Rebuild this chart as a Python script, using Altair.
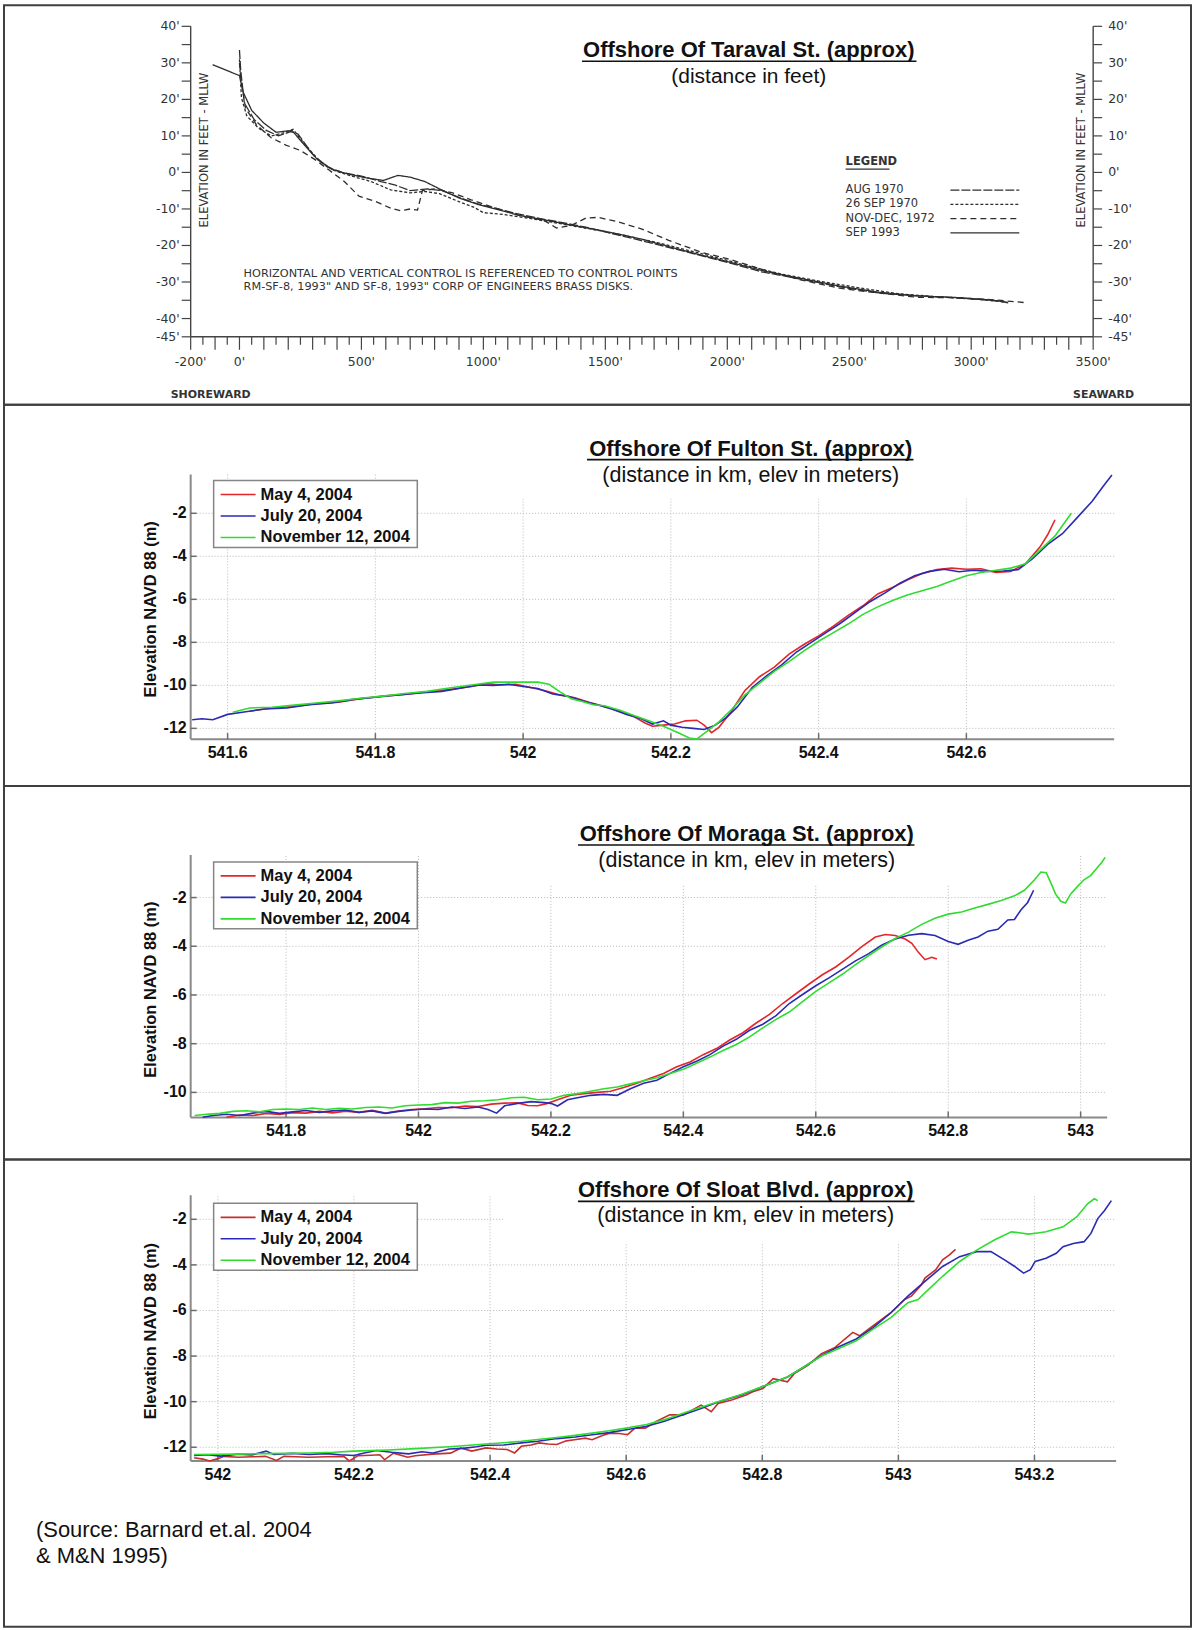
import altair as alt
import pandas as pd

PANEL_W = 1189
SANS = "Liberation Sans"
CAD = "DejaVu Sans"
CAD_INK = "#333333"

# ---------------- Taraval St. profiles (distance ft, elevation ft MLLW) ----------------
taraval_names = ["AUG 1970", "26 SEP 1970", "NOV-DEC, 1972", "SEP 1993"]

aug1970_ft = [0, 5, 20, 60, 110, 160, 210, 240, 300, 360, 420, 500, 580, 640, 700, 770, 830, 900,
              970, 1050, 1130, 1230, 1330, 1420, 1520, 1620, 1740, 1860, 2000, 2140, 2300, 2460,
              2620, 2780, 2930, 3080, 3140]
aug1970_el = [33.5, 28, 19, 14.5, 11.5, 10, 11.2, 10.5, 5, 1.5, 0, -1, -2.5, -3.5, -5, -4.5, -5,
              -6.8, -8.5, -9.8, -11.2, -12.6, -13.8, -15, -16.6, -18.2, -20.2, -22.2, -24.6, -27.2,
              -29.2, -31.3, -33, -33.8, -34.3, -35, -35.5]

sep1970_ft = [0, 8, 30, 80, 130, 180, 220, 270, 330, 390, 460, 540, 620, 700, 760, 820, 900, 960,
              1000, 1080, 1180, 1280, 1380, 1480, 1580, 1700, 1820, 1950, 2080, 2220, 2380, 2540,
              2700, 2850, 3000, 3120, 3160]
sep1970_el = [31, 20.5, 15.5, 12, 10, 10.8, 11.8, 7.5, 3, 0.5, -1, -2.5, -4.8, -5.6, -5.2, -5.8,
              -8, -9.5, -11, -11.5, -12.5, -13.6, -14.8, -16, -17.3, -19, -21, -23.2, -25.5, -27.8,
              -29.8, -31.6, -33.2, -34, -34.6, -35.3, -35.8]

nov1972_ft = [0, 5, 25, 70, 130, 190, 250, 310, 370, 430, 490, 560, 620, 660, 700, 730, 750, 800,
              870, 950, 1050, 1150, 1250, 1300, 1360, 1420, 1470, 1550, 1650, 1760, 1900, 2000,
              2150, 2300, 2460, 2620, 2780, 2930, 3080, 3230]
nov1972_el = [30, 26, 17.5, 13, 9.5, 7.5, 6, 3.5, 0.5, -2.5, -6.5, -8, -9.8, -10.5, -10, -10.3,
              -5, -4.5, -5.5, -7.5, -9.8, -11.8, -13.2, -15.2, -14.5, -12.5, -12.3, -13.5, -15.5,
              -18.6, -22, -23.6, -26.7, -29.4, -31.7, -33, -34.2, -34.3, -34.8, -35.7]

sep1993_ft = [-110, 0, 15, 50, 100, 150, 215, 260, 320, 380, 450, 520, 590, 650, 700, 760, 820,
              900, 980, 1060, 1150, 1250, 1350, 1450, 1550, 1650, 1760, 1880, 2000, 2150, 2300,
              2460, 2620, 2780, 2930, 3080, 3150]
sep1993_el = [29.5, 26.5, 22, 17, 13.5, 11, 11.5, 8, 3.5, 0.8, -0.5, -1.5, -2.2, -0.8, -1.3, -2.5,
              -4.5, -7, -8.8, -10.2, -11.8, -13, -14.3, -15.5, -16.8, -18.3, -20.3, -22.4, -24.4,
              -27, -29, -31.1, -32.8, -33.8, -34.2, -34.9, -35.6]

taraval_dashes = [[9, 2], [3, 2], [6, 4], [1, 0]]

taraval_xlabel_ticks = [-200, 0, 500, 1000, 1500, 2000, 2500, 3000, 3500]
taraval_xlabels = ["-200'", "0'", "500'", "1000'", "1500'", "2000'", "2500'", "3000'", "3500'"]
taraval_yticks = [40, 30, 20, 10, 0, -10, -20, -30, -40, -45]
taraval_ylabels = ["40'", "30'", "20'", "10'", "0'", "-10'", "-20'", "-30'", "-40'", "-45'"]

# ---------------- 2004 surveys (distance km, elevation m NAVD 88) ----------------
survey_names = ["May 4, 2004", "July 20, 2004", "November 12, 2004"]
survey_colors = ["#e2262a", "#2a2ab4", "#2fdc2f"]
sloat_colors = ["#c4302c", "#2a2ab4", "#2fdc2f"]

# Fulton St.
fulton_may_km = [541.63, 541.66, 541.69, 541.72, 541.75, 541.78, 541.81, 541.84, 541.87, 541.9,
                 541.93, 541.95, 541.97, 541.99, 542.01, 542.03, 542.05, 542.07, 542.09, 542.11,
                 542.13, 542.15, 542.165, 542.175, 542.19, 542.205, 542.22, 542.235, 542.245,
                 542.255, 542.265, 542.28, 542.3, 542.32, 542.34, 542.36, 542.38, 542.4, 542.42,
                 542.44, 542.46, 542.48, 542.5, 542.52, 542.54, 542.56, 542.58, 542.6, 542.62,
                 542.64, 542.66, 542.68, 542.69, 542.7, 542.71, 542.72]
fulton_may_m = [-11.2, -11.05, -10.98, -10.85, -10.78, -10.62, -10.5, -10.42, -10.3, -10.2, -10.05,
                -9.92, -9.98, -9.95, -10.1, -10.25, -10.45, -10.58, -10.8, -10.98, -11.2, -11.45,
                -11.75, -11.9, -11.85, -11.8, -11.65, -11.62, -11.85, -12.2, -11.95, -11.3,
                -10.25, -9.6, -9.15, -8.55, -8.1, -7.7, -7.25, -6.75, -6.3, -5.75, -5.45, -5.1,
                -4.8, -4.62, -4.55, -4.6, -4.58, -4.75, -4.7, -4.35, -3.95, -3.55, -3.0, -2.3]
fulton_jul_km = [541.552, 541.565, 541.58, 541.6, 541.62, 541.65, 541.68, 541.71, 541.74, 541.77,
                 541.8, 541.83, 541.86, 541.89, 541.92, 541.94, 541.96, 541.98, 542.0, 542.02,
                 542.04, 542.06, 542.08, 542.1, 542.12, 542.14, 542.16, 542.175, 542.19, 542.2,
                 542.215, 542.23, 542.245, 542.26, 542.275, 542.29, 542.31, 542.33, 542.35,
                 542.37, 542.39, 542.41, 542.43, 542.45, 542.47, 542.49, 542.51, 542.53, 542.55,
                 542.57, 542.59, 542.61, 542.63, 542.65, 542.67, 542.69, 542.71, 542.73, 542.75,
                 542.77, 542.785, 542.797]
fulton_jul_m = [-11.6, -11.55, -11.6, -11.35, -11.25, -11.1, -11.05, -10.9, -10.82, -10.65,
                -10.55, -10.45, -10.35, -10.28, -10.1, -9.98, -10.0, -9.95, -10.05, -10.15,
                -10.4, -10.5, -10.72, -10.9, -11.1, -11.35, -11.55, -11.8, -11.65, -11.85,
                -11.95, -12.0, -12.05, -11.85, -11.5, -11.0, -10.1, -9.55, -9.05, -8.45,
                -8.0, -7.55, -7.1, -6.6, -6.1, -5.7, -5.25, -4.9, -4.7, -4.6,
                -4.72, -4.65, -4.7, -4.68, -4.62, -4.1, -3.45, -2.95, -2.2, -1.45,
                -0.75, -0.22]
fulton_nov_km = [541.607, 541.63, 541.66, 541.69, 541.72, 541.75, 541.78, 541.81, 541.84, 541.87,
                 541.9, 541.93, 541.96, 541.99, 542.02, 542.035, 542.05, 542.065, 542.08, 542.095,
                 542.11, 542.13, 542.15, 542.17, 542.19, 542.21, 542.225, 542.235, 542.25,
                 542.265, 542.28, 542.3, 542.32, 542.34, 542.36, 542.38, 542.4, 542.42, 542.44,
                 542.46, 542.48, 542.5, 542.52, 542.54, 542.56, 542.58, 542.6, 542.62, 542.64,
                 542.66, 542.68, 542.7, 542.72, 542.742]
fulton_nov_m = [-11.25, -11.05, -11.02, -10.92, -10.82, -10.72, -10.6, -10.5, -10.38, -10.28,
                -10.12, -9.98, -9.85, -9.85, -9.85, -9.95, -10.3, -10.62, -10.75, -10.9, -10.95,
                -11.15, -11.4, -11.65, -11.9, -12.2, -12.45, -12.5, -12.1, -11.7, -11.2,
                -10.45, -9.9, -9.35, -8.9, -8.4, -7.95, -7.55, -7.15, -6.7, -6.35, -6.05, -5.8,
                -5.6, -5.4, -5.15, -4.9, -4.75, -4.65, -4.55, -4.35, -3.7, -3.05, -2.0]

# Moraga St.
moraga_may_km = [541.71, 541.73, 541.75, 541.77, 541.79, 541.81, 541.83, 541.85, 541.87, 541.89,
                 541.91, 541.93, 541.95, 541.97, 541.99, 542.01, 542.03, 542.05, 542.07, 542.09,
                 542.11, 542.13, 542.15, 542.165, 542.18, 542.195, 542.21, 542.23, 542.25,
                 542.27, 542.29, 542.31, 542.33, 542.35, 542.37, 542.39, 542.41, 542.43, 542.45,
                 542.47, 542.49, 542.51, 542.53, 542.55, 542.57, 542.59, 542.61, 542.63, 542.65,
                 542.67, 542.69, 542.705, 542.72, 542.735, 542.745, 542.755, 542.765, 542.775,
                 542.783]
moraga_may_m = [-11.02, -10.93, -10.95, -10.86, -10.9, -10.83, -10.85, -10.78, -10.84, -10.77,
                -10.82, -10.74, -10.85, -10.76, -10.7, -10.67, -10.62, -10.63, -10.56, -10.58,
                -10.48, -10.44, -10.43, -10.54, -10.55, -10.45, -10.3, -10.12, -10.05, -10.0,
                -9.95, -9.8, -9.62, -9.42, -9.22, -8.95, -8.75, -8.45, -8.2, -7.85, -7.55,
                -7.15, -6.8, -6.35, -5.95, -5.55, -5.17, -4.85, -4.45, -4.0, -3.62, -3.52,
                -3.56, -3.7, -3.88, -4.25, -4.55, -4.45, -4.52]
moraga_jul_km = [541.674, 541.69, 541.71, 541.73, 541.75, 541.77, 541.79, 541.81, 541.83, 541.85,
                 541.87, 541.89, 541.91, 541.93, 541.95, 541.97, 541.99, 542.01, 542.03, 542.05,
                 542.07, 542.09, 542.105, 542.118, 542.13, 542.15, 542.17, 542.19, 542.2, 542.21,
                 542.225, 542.24, 542.26, 542.28, 542.3, 542.32, 542.34, 542.36, 542.38, 542.4,
                 542.42, 542.44, 542.46, 542.48, 542.5, 542.52, 542.54, 542.56, 542.58, 542.6,
                 542.62, 542.64, 542.66, 542.68, 542.7, 542.72, 542.74, 542.76, 542.78, 542.8,
                 542.815, 542.83, 542.845, 542.86, 542.875, 542.89, 542.9, 542.91, 542.92,
                 542.929]
moraga_jul_m = [-11.02, -10.95, -10.9, -10.95, -10.85, -10.78, -10.86, -10.8, -10.74, -10.82,
                -10.76, -10.72, -10.82, -10.76, -10.86, -10.78, -10.72, -10.68, -10.7, -10.6,
                -10.66, -10.6, -10.7, -10.85, -10.55, -10.45, -10.38, -10.42, -10.45, -10.56,
                -10.3, -10.22, -10.12, -10.08, -10.12, -9.85, -9.62, -9.5, -9.22, -8.95,
                -8.72, -8.45, -8.1, -7.82, -7.45, -7.2, -6.85, -6.35, -5.98, -5.62,
                -5.3, -4.95, -4.6, -4.3, -3.95, -3.7, -3.55, -3.48, -3.56, -3.8,
                -3.92, -3.75, -3.62, -3.38, -3.3, -2.92, -2.9, -2.5, -2.2, -1.7]
moraga_nov_km = [541.662, 541.68, 541.70, 541.72, 541.74, 541.76, 541.78, 541.80, 541.82, 541.84,
                 541.86, 541.88, 541.90, 541.92, 541.94, 541.96, 541.98, 542.00, 542.02, 542.04,
                 542.06, 542.08, 542.10, 542.12, 542.14, 542.16, 542.18, 542.20, 542.22, 542.24,
                 542.26, 542.28, 542.30, 542.32, 542.34, 542.36, 542.38, 542.40, 542.42, 542.44,
                 542.46, 542.48, 542.50, 542.52, 542.54, 542.56, 542.58, 542.60, 542.62, 542.64,
                 542.66, 542.68, 542.70, 542.72, 542.74, 542.76, 542.78, 542.80, 542.82, 542.84,
                 542.86, 542.88, 542.90, 542.915, 542.93, 542.94, 542.948, 542.955, 542.962,
                 542.97, 542.977, 542.985, 542.995, 543.005, 543.015, 543.025, 543.032, 543.037]
moraga_nov_m = [-10.95, -10.9, -10.86, -10.78, -10.75, -10.8, -10.7, -10.68, -10.7, -10.64,
                -10.7, -10.65, -10.68, -10.62, -10.6, -10.64, -10.55, -10.52, -10.5, -10.42,
                -10.44, -10.36, -10.34, -10.3, -10.22, -10.2, -10.3, -10.27, -10.12, -10.05,
                -9.95, -9.85, -9.78, -9.65, -9.52, -9.4, -9.22, -9.05, -8.8, -8.55,
                -8.28, -8.03, -7.72, -7.35, -7.0, -6.7, -6.27, -5.85, -5.5, -5.15,
                -4.75, -4.38, -4.02, -3.68, -3.42, -3.1, -2.85, -2.68, -2.59, -2.43,
                -2.28, -2.12, -1.93, -1.7, -1.28, -0.95, -0.98, -1.4, -1.85,
                -2.15, -2.22, -1.85, -1.55, -1.27, -1.1, -0.78, -0.55, -0.35]

# Sloat Blvd.
sloat_may_km = [541.965, 541.978, 541.988, 542.0, 542.009, 542.03, 542.05, 542.07, 542.086, 542.097,
                542.115, 542.133, 542.16, 542.185, 542.193, 542.206, 542.225, 542.238, 542.245,
                542.258, 542.279, 542.29, 542.315, 542.342, 542.357, 542.373, 542.394, 542.41,
                542.425, 542.436, 542.446, 542.46, 542.472, 542.485, 542.498, 542.512, 542.524,
                542.54, 542.55, 542.565, 542.576, 542.59, 542.602, 542.613, 542.628, 542.644,
                542.664, 542.684, 542.71, 542.725, 542.735, 542.755, 542.776, 542.786, 542.801,
                542.816, 542.837, 542.847, 542.867, 542.887, 542.907, 542.933, 542.943, 542.963,
                542.989, 543.009, 543.019, 543.034, 543.039, 543.055, 543.065, 543.075, 543.084]
sloat_may_m = [-12.46, -12.52, -12.6, -12.5, -12.4, -12.44, -12.42, -12.4, -12.58, -12.4,
               -12.42, -12.44, -12.42, -12.4, -12.6, -12.37, -12.35, -12.33, -12.55, -12.26,
               -12.44, -12.37, -12.3, -12.26, -12.03, -12.17, -12.03, -12.08, -12.1, -12.25,
               -11.96, -11.9, -11.81, -11.86, -11.88, -11.72, -11.67, -11.6, -11.67, -11.48,
               -11.38, -11.4, -11.45, -11.16, -11.16, -10.87, -10.58, -10.58, -10.15, -10.44,
               -10.08, -9.93, -9.71, -9.57, -9.42, -8.99, -9.13, -8.77, -8.41, -7.9,
               -7.62, -6.96, -7.11, -6.67, -6.1, -5.52, -5.37, -4.87, -4.58, -4.21,
               -3.78, -3.56, -3.32]
sloat_jul_km = [541.965, 541.985, 542.004, 542.03, 542.05, 542.071, 542.082, 542.11, 542.134, 542.16,
                542.18, 542.2, 542.215, 542.233, 542.255, 542.28, 542.3, 542.316, 542.34, 542.36,
                542.38, 542.394, 542.42, 542.446, 542.47, 542.498, 542.525, 542.55, 542.575, 542.6,
                542.63, 542.655, 542.69, 542.71, 542.735, 542.77, 542.8, 542.837, 542.86, 542.887,
                542.91, 542.938, 542.963, 542.989, 543.014, 543.039, 543.065, 543.09, 543.115,
                543.136, 543.156, 543.171, 543.184, 543.194, 543.201, 543.217, 543.232, 543.242,
                543.257, 543.273, 543.283, 543.293, 543.303, 543.313]
sloat_jul_m = [-12.36, -12.33, -12.39, -12.3, -12.34, -12.17, -12.32, -12.27, -12.32, -12.28,
               -12.33, -12.36, -12.25, -12.14, -12.22, -12.29, -12.2, -12.25, -12.08, -12.05,
               -11.98, -11.91, -11.9, -11.81, -11.74, -11.62, -11.55, -11.45, -11.36, -11.23,
               -11.08, -10.87, -10.51, -10.3, -10.02, -9.7, -9.35, -8.92, -8.5, -7.98,
               -7.62, -7.25, -6.75, -6.1, -5.37, -4.72, -4.07, -3.64, -3.42, -3.42,
               -3.78, -4.07, -4.36, -4.21, -3.85, -3.71, -3.49, -3.2, -3.06, -2.98,
               -2.62, -1.97, -1.61, -1.18]
sloat_nov_km = [541.965, 542.0, 542.03, 542.07, 542.1, 542.134, 542.17, 542.2, 542.25, 542.29,
                542.34, 542.394, 542.42, 542.446, 542.47, 542.498, 542.525, 542.55, 542.575, 542.6,
                542.63, 542.655, 542.69, 542.71, 542.735, 542.77, 542.8, 542.837, 542.86, 542.887,
                542.91, 542.938, 542.963, 542.989, 543.014, 543.029, 543.039, 543.065, 543.09,
                543.115, 543.141, 543.166, 543.18, 543.191, 543.205, 543.217, 543.242, 543.262,
                543.278, 543.288, 543.293]
sloat_nov_m = [-12.32, -12.31, -12.3, -12.28, -12.27, -12.25, -12.22, -12.17, -12.12, -12.06,
               -11.98, -11.86, -11.8, -11.74, -11.66, -11.57, -11.48, -11.38, -11.28, -11.16,
               -11.0, -10.8, -10.44, -10.25, -10.0, -9.68, -9.35, -8.92, -8.5, -8.0,
               -7.7, -7.33, -6.82, -6.31, -5.66, -5.52, -5.23, -4.5, -3.85, -3.35,
               -2.91, -2.55, -2.6, -2.65, -2.6, -2.55, -2.33, -1.9, -1.32, -1.1, -1.18]

fulton_xticks = [541.6, 541.8, 542.0, 542.2, 542.4, 542.6]
fulton_xlabels = ["541.6", "541.8", "542", "542.2", "542.4", "542.6"]
fulton_yticks = [-2, -4, -6, -8, -10, -12]
moraga_xticks = [541.8, 542.0, 542.2, 542.4, 542.6, 542.8, 543.0]
moraga_xlabels = ["541.8", "542", "542.2", "542.4", "542.6", "542.8", "543"]
moraga_yticks = [-2, -4, -6, -8, -10]
sloat_xticks = [542.0, 542.2, 542.4, 542.6, 542.8, 543.0, 543.2]
sloat_xlabels = ["542", "542.2", "542.4", "542.6", "542.8", "543", "543.2"]
sloat_yticks = [-2, -4, -6, -8, -10, -12]

source_lines = ["(Source: Barnard et.al. 2004", "& M&N 1995)"]


def profile_frame(dist, elev):
    n = min(len(dist), len(elev))
    return pd.DataFrame({"x": dist[:n], "y": elev[:n], "i": list(range(n))})


def one_row(**kw):
    return pd.DataFrame({k: [v] for k, v in kw.items()})


def text_at(label, x, y, size, weight="normal", font=SANS, align="center", angle=0, color="#111111"):
    return alt.Chart(one_row(label=label)).mark_text(
        font=font, fontSize=size, fontWeight=weight, align=align, baseline="middle",
        angle=angle, color=color,
    ).encode(x=alt.value(x), y=alt.value(y), text="label:N")


def underline(x0, x1, y, color="#111111", width=1.6):
    return alt.Chart(one_row(a=0)).mark_rule(color=color, strokeWidth=width).encode(
        x=alt.value(x0), x2=alt.value(x1), y=alt.value(y))


# ---------------- panel 1: Taraval St. ----------------
def taraval_panel():
    xdom, xrng = [-200, 3500], [187, 1091]
    ydom, yrng = [-45, 40], [332, 21]
    xs = alt.Scale(domain=xdom, range=xrng, nice=False, zero=False)
    ys = alt.Scale(domain=ydom, range=yrng, nice=False, zero=False)
    X = alt.X("x:Q", scale=xs, axis=None)
    Y = alt.Y("y:Q", scale=ys, axis=None)
    layers = []

    frame_col = "#444444"
    bottom = alt.Chart(one_row(x=xdom[0], x2=xdom[1], y=ydom[0])).mark_rule(
        color=frame_col, strokeWidth=1.4).encode(x=X, x2="x2:Q", y=Y)
    left = alt.Chart(one_row(x=xdom[0], y=ydom[0], y2=ydom[1])).mark_rule(
        color=frame_col, strokeWidth=1.4).encode(x=X, y=Y, y2="y2:Q")
    right = alt.Chart(one_row(x=xdom[1], y=ydom[0], y2=ydom[1])).mark_rule(
        color=frame_col, strokeWidth=1.4).encode(x=X, y=Y, y2="y2:Q")
    layers += [bottom, left, right]

    # ticks: every 5 ft on both vertical axes, every 50 ft along the bottom
    yt = pd.DataFrame({"y": list(range(-45, 41, 5)), "x": xdom[0]})
    layers.append(alt.Chart(yt).mark_rule(color=frame_col, strokeWidth=1.2).encode(
        x=X, x2=alt.value(xrng[0] - 9), y=Y))
    ytr = pd.DataFrame({"y": list(range(-45, 41, 5)), "x": xdom[1]})
    layers.append(alt.Chart(ytr).mark_rule(color=frame_col, strokeWidth=1.2).encode(
        x=X, x2=alt.value(xrng[1] + 9), y=Y))
    major = pd.DataFrame({"x": list(range(-200, 3501, 100)), "y": ydom[0]})
    minor = pd.DataFrame({"x": list(range(-150, 3500, 100)), "y": ydom[0]})
    layers.append(alt.Chart(major).mark_rule(color=frame_col, strokeWidth=1.2).encode(
        x=X, y=Y, y2=alt.value(yrng[0] + 13)))
    layers.append(alt.Chart(minor).mark_rule(color=frame_col, strokeWidth=1.2).encode(
        x=X, y=Y, y2=alt.value(yrng[0] + 8)))

    xl = pd.DataFrame({"x": taraval_xlabel_ticks, "y": ydom[0], "label": taraval_xlabels})
    layers.append(alt.Chart(xl).mark_text(font=CAD, fontSize=12.5, color=CAD_INK, dy=25,
                                          baseline="middle").encode(x=X, y=Y, text="label:N"))
    yl = pd.DataFrame({"x": xdom[0], "y": taraval_yticks, "label": taraval_ylabels})
    layers.append(alt.Chart(yl).mark_text(font=CAD, fontSize=12.5, color=CAD_INK, dx=-11,
                                          align="right", baseline="middle").encode(
        x=X, y=Y, text="label:N"))
    yr = pd.DataFrame({"x": xdom[1], "y": taraval_yticks, "label": taraval_ylabels})
    layers.append(alt.Chart(yr).mark_text(font=CAD, fontSize=12.5, color=CAD_INK, dx=15,
                                          align="left", baseline="middle").encode(
        x=X, y=Y, text="label:N"))

    profiles = [(aug1970_ft, aug1970_el), (sep1970_ft, sep1970_el),
                (nov1972_ft, nov1972_el), (sep1993_ft, sep1993_el)]
    for (d, e), dash in zip(profiles, taraval_dashes):
        layers.append(alt.Chart(profile_frame(d, e)).mark_line(
            color="#2e2e2e", strokeWidth=1.3, strokeDash=dash).encode(x=X, y=Y, order="i:Q"))

    # legend block
    layers.append(text_at("LEGEND", 843, 157, 11.5, weight="bold", font=CAD, align="left",
                          color=CAD_INK))
    layers.append(underline(843, 887, 164, color=CAD_INK, width=1.2))
    for k, (name, dash) in enumerate(zip(taraval_names, taraval_dashes)):
        yy = 185 + k * 14.3
        layers.append(text_at(name, 843, yy, 11.5, font=CAD, align="left", color=CAD_INK))
        layers.append(alt.Chart(one_row(a=0)).mark_rule(
            color="#2e2e2e", strokeWidth=1.3, strokeDash=dash).encode(
            x=alt.value(948), x2=alt.value(1017), y=alt.value(yy)))

    layers.append(text_at("HORIZONTAL AND VERTICAL CONTROL IS REFERENCED TO CONTROL POINTS",
                          240, 269, 11.3, font=CAD, align="left", color=CAD_INK))
    layers.append(text_at("RM-SF-8, 1993\" AND SF-8, 1993\" CORP OF ENGINEERS BRASS DISKS.",
                          240, 282, 11.3, font=CAD, align="left", color=CAD_INK))
    layers.append(text_at("ELEVATION IN FEET - MLLW", 201, 145, 11.5, font=CAD, angle=270,
                          color=CAD_INK))
    layers.append(text_at("ELEVATION IN FEET - MLLW", 1080, 145, 11.5, font=CAD, angle=270,
                          color=CAD_INK))
    layers.append(text_at("SHOREWARD", 167, 390, 11, weight="bold", font=CAD, align="left",
                          color=CAD_INK))
    layers.append(text_at("SEAWARD", 1132, 390, 11, weight="bold", font=CAD, align="right",
                          color=CAD_INK))

    layers.append(text_at("Offshore Of Taraval St. (approx)", 746, 45, 22, weight="bold"))
    layers.append(underline(579, 914, 56))
    layers.append(text_at("(distance in feet)", 746, 72, 21))
    return alt.layer(*layers).properties(width=PANEL_W, height=400)


# ---------------- panels 2-4: 2004 surveys ----------------
def survey_panel(height, xdom, xrng, ydom, yrng, xticks, xlabels, yticks, profiles, colors,
                 title, title_cx, title_y, title_span, sub_cx, sub_y, cover, legend_top,
                 ytitle_y, extra=None):
    xs = alt.Scale(domain=xdom, range=xrng, nice=False, zero=False)
    ys = alt.Scale(domain=ydom, range=yrng, nice=False, zero=False)
    X = alt.X("x:Q", scale=xs, axis=None)
    Y = alt.Y("y:Q", scale=ys, axis=None)
    layers = []

    grid_style = dict(color="#b9b9b9", strokeWidth=1, strokeDash=[1, 2])
    vg = pd.DataFrame({"x": xticks, "y": ydom[0], "y2": ydom[1]})
    hg = pd.DataFrame({"y": yticks, "x": xdom[0], "x2": xdom[1]})
    layers.append(alt.Chart(vg).mark_rule(**grid_style).encode(x=X, y=Y, y2="y2:Q"))
    layers.append(alt.Chart(hg).mark_rule(**grid_style).encode(x=X, x2="x2:Q", y=Y))

    # white backing behind the title block
    layers.append(alt.Chart(one_row(a=0)).mark_rect(fill="white").encode(
        x=alt.value(cover[0]), x2=alt.value(cover[1]), y=alt.value(cover[2]),
        y2=alt.value(cover[3])))

    axis_col = "#8a8a8a"
    layers.append(alt.Chart(one_row(x=xdom[0], x2=xdom[1], y=ydom[0])).mark_rule(
        color=axis_col, strokeWidth=2).encode(x=X, x2="x2:Q", y=Y))
    layers.append(alt.Chart(one_row(x=xdom[0], y=ydom[0], y2=ydom[1])).mark_rule(
        color=axis_col, strokeWidth=2).encode(x=X, y=Y, y2="y2:Q"))
    xt = pd.DataFrame({"x": xticks, "y": ydom[0]})
    layers.append(alt.Chart(xt).mark_rule(color="#6d6d6d", strokeWidth=1.5).encode(
        x=X, y=Y, y2=alt.value(yrng[0] - 6)))
    yt = pd.DataFrame({"y": yticks, "x": xdom[0]})
    layers.append(alt.Chart(yt).mark_rule(color="#6d6d6d", strokeWidth=1.5).encode(
        x=X, x2=alt.value(xrng[0] + 6), y=Y))

    xl = pd.DataFrame({"x": xticks, "y": ydom[0], "label": xlabels})
    layers.append(alt.Chart(xl).mark_text(font=SANS, fontSize=16, fontWeight="bold",
                                          color="#111111", dy=14, baseline="middle").encode(
        x=X, y=Y, text="label:N"))
    yl = pd.DataFrame({"x": xdom[0], "y": yticks, "label": [str(v) for v in yticks]})
    layers.append(alt.Chart(yl).mark_text(font=SANS, fontSize=16, fontWeight="bold",
                                          color="#111111", dx=-4, align="right",
                                          baseline="middle").encode(
        x=X, y=Y, text="label:N"))

    for (d, e), c in zip(profiles, colors):
        layers.append(alt.Chart(profile_frame(d, e)).mark_line(
            color=c, strokeWidth=1.6).encode(x=X, y=Y, order="i:Q"))

    # legend box
    layers.append(alt.Chart(one_row(a=0)).mark_rect(
        fill="white", stroke="#858585", strokeWidth=1.5).encode(
        x=alt.value(210), x2=alt.value(414), y=alt.value(legend_top),
        y2=alt.value(legend_top + 67)))
    for k, (name, c) in enumerate(zip(survey_names, colors)):
        yy = legend_top + 14 + k * 21.5
        layers.append(alt.Chart(one_row(a=0)).mark_rule(color=c, strokeWidth=1.6).encode(
            x=alt.value(217), x2=alt.value(252), y=alt.value(yy)))
        layers.append(text_at(name, 257, yy, 16.5, weight="bold", align="left"))

    layers.append(text_at("Elevation NAVD 88 (m)", 147, ytitle_y, 16.5, weight="bold",
                          angle=270))
    layers.append(text_at(title, title_cx, title_y, 22, weight="bold"))
    layers.append(underline(title_span[0], title_span[1], title_y + 11))
    layers.append(text_at("(distance in km, elev in meters)", sub_cx, sub_y, 21.5))
    if extra:
        layers += extra
    return alt.layer(*layers).properties(width=PANEL_W, height=height)


fulton = survey_panel(
    382, [541.55, 542.80], [187, 1112], [-12.5, -0.2], [335, 70],
    fulton_xticks, fulton_xlabels, fulton_yticks,
    [(fulton_may_km, fulton_may_m), (fulton_jul_km, fulton_jul_m), (fulton_nov_km, fulton_nov_m)],
    survey_colors, "Offshore Of Fulton St. (approx)", 748, 44, (584, 911), 748, 71,
    (502, 997, 62, 94), 76, 205)

moraga = survey_panel(
    374, [541.656, 543.04], [187, 1105], [-11.03, -0.25], [332, 69],
    moraga_xticks, moraga_xlabels, moraga_yticks,
    [(moraga_may_km, moraga_may_m), (moraga_jul_km, moraga_jul_m), (moraga_nov_km, moraga_nov_m)],
    survey_colors, "Offshore Of Moraga St. (approx)", 744, 48, (575, 912), 744, 75,
    (537, 1072, 62, 99), 76, 204)

sloat = survey_panel(
    468, [541.96, 543.32], [187, 1114], [-12.6, -0.95], [302, 36],
    sloat_xticks, sloat_xlabels, sloat_yticks,
    [(sloat_may_km, sloat_may_m), (sloat_jul_km, sloat_jul_m), (sloat_nov_km, sloat_nov_m)],
    sloat_colors, "Offshore Of Sloat Blvd. (approx)", 743, 31, (575, 912), 743, 57,
    (500, 978, 30, 83), 44, 172,
    extra=[text_at(source_lines[0], 32, 371, 22, align="left"),
           text_at(source_lines[1], 32, 397, 22, align="left")])

chart = alt.vconcat(
    taraval_panel(), fulton, moraga, sloat, spacing=0, bounds="flush"
).properties(
    padding={"left": 3, "right": 3, "top": 3, "bottom": 3},
    background="white",
).configure_view(stroke="#3f3f3f", strokeWidth=2)

chart.save("out.html", embed_options={"renderer": "svg", "actions": False})
